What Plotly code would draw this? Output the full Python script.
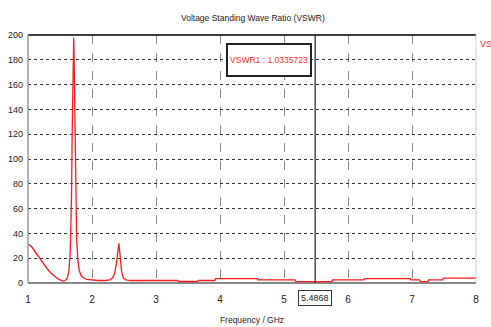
import plotly.graph_objects as go

freq_ghz = [1.0, 1.03, 1.06, 1.1, 1.15, 1.2, 1.25, 1.3, 1.35, 1.4, 1.45, 1.5, 1.55,
            1.58, 1.6, 1.62, 1.64, 1.66, 1.68, 1.69, 1.70, 1.705, 1.714, 1.72, 1.73,
            1.74, 1.75, 1.76, 1.78, 1.80, 1.83, 1.87, 1.92, 2.0, 2.1, 2.2, 2.28,
            2.32, 2.35, 2.38, 2.40, 2.42, 2.44, 2.46, 2.49, 2.53, 2.6, 3.0, 3.34,
            3.35, 3.65, 3.66, 3.92, 3.93, 4.58, 4.59, 5.17, 5.18, 5.75, 5.76, 6.25,
            6.26, 6.97, 6.98, 7.12, 7.13, 7.25, 7.26, 7.48, 7.49, 8.0]
vswr = [31, 30.5, 29, 26, 22, 18, 14.5, 11.5, 8.5, 6, 4, 2.5, 1.5,
        2, 3, 5, 10, 25, 70, 120, 170, 190, 198, 185, 150,
        100, 60, 35, 18, 10, 6, 4, 3, 2.5, 2, 2, 2.5,
        4, 7, 15, 25, 32, 22, 10, 4, 2.5, 2, 2, 2,
        1.2, 1.2, 2, 2, 3.5, 3.5, 2.5, 2.5, 1.1, 1.1, 2.5, 2.5,
        3.5, 3.5, 2.5, 2.5, 1.1, 1.1, 2.5, 2.5, 4, 4]

x_ticks = [1, 2, 3, 4, 5, 6, 7, 8]
y_ticks = [0, 20, 40, 60, 80, 100, 120, 140, 160, 180, 200]
marker_freq = 5.4868
marker_label = "VSWR1 : 1.0335723"
legend_stub = "VS"

FONT = "Liberation Sans, Arial, sans-serif"

fig = go.Figure()
fig.add_trace(go.Scatter(x=freq_ghz, y=vswr, mode="lines",
                         line=dict(color="#ff1a1a", width=1.3), showlegend=False))

fig.update_layout(
    width=491, height=327,
    margin=dict(l=28, r=15, t=35, b=44),
    paper_bgcolor="white", plot_bgcolor="white",
    font=dict(family=FONT, size=9, color="#222"),
    title=dict(text="Voltage Standing Wave Ratio (VSWR)", x=0.515, xanchor="center",
               y=1 - 18 / 327, yanchor="middle", font=dict(size=8.5, color="#222")),
    xaxis=dict(range=[1, 8], tickvals=x_ticks, ticks="", showline=False,
               showgrid=True, gridcolor="#888", griddash="dash", gridwidth=1,
               zeroline=False, tickfont=dict(size=10), ticklabelstandoff=9,
               automargin=False,
               title=dict(text="Frequency / GHz", standoff=13, font=dict(size=8.5))),
    yaxis=dict(range=[0, 200], tickvals=y_ticks, ticks="", showline=False,
               showgrid=True, gridcolor="#333", griddash="dot", gridwidth=1,
               zeroline=False, tickfont=dict(size=9), ticklabelstandoff=4,
               automargin=False),
)

# frame lines
fig.add_shape(type="line", xref="paper", yref="paper", x0=0, x1=1, y0=1, y1=1,
              line=dict(color="black", width=1.5))
fig.add_shape(type="line", xref="paper", yref="paper", x0=0, x1=0, y0=0, y1=1,
              line=dict(color="#999", width=1.5))
fig.add_shape(type="line", xref="paper", yref="paper", x0=1, x1=1, y0=0, y1=1,
              line=dict(color="#ccc", width=1))
fig.add_shape(type="line", xref="paper", yref="paper", x0=0, x1=1, y0=0, y1=0,
              line=dict(color="#888", width=2), layer="below")

# marker line
fig.add_shape(type="line", xref="x", yref="paper", x0=marker_freq, x1=marker_freq,
              y0=0, y1=1, line=dict(color="#222", width=1.2))

fig.add_annotation(x=marker_freq, xref="x", y=-0.03, yref="paper", yanchor="top",
                   text=f"{marker_freq}", showarrow=False, bgcolor="white",
                   bordercolor="#333", borderwidth=1, borderpad=2,
                   font=dict(size=9, color="#222"))

fig.add_annotation(x=marker_freq, xref="x", y=180, yref="y", xanchor="right",
                   text=marker_label, showarrow=False, bgcolor="white",
                   bordercolor="#222", borderwidth=2, borderpad=1,
                   width=80, height=28,
                   font=dict(size=8.5, color="#ff2a2a"), xshift=-3)

fig.add_annotation(x=1, xref="paper", y=193, yref="y", xanchor="left",
                   text=legend_stub, showarrow=False, xshift=2,
                   font=dict(size=9, color="#ff2a2a"))

fig.write_html("out.html", config={"displayModeBar": False},
               post_script="document.body.style.margin='0';")
